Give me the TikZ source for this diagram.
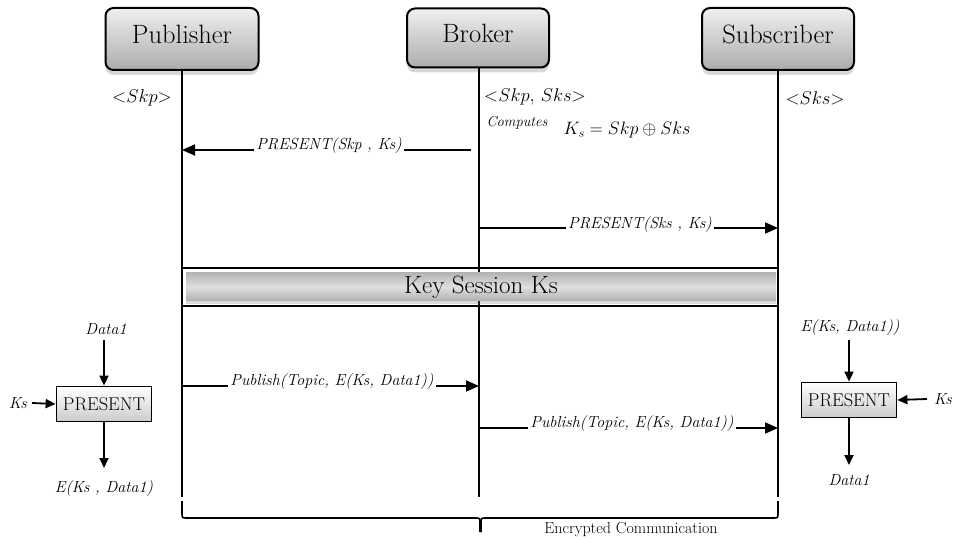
\RequirePackage{fix-cm}
\documentclass[tikz,border=0pt]{standalone}
\usepackage{fontspec}
\usetikzlibrary{arrows.meta,shadows}
\begin{document}
\begin{tikzpicture}[x=1pt,y=-1pt,
  actor/.style={draw=black, line width=2pt, rounded corners=8pt,
    top color=gray!12, bottom color=gray!65, inner sep=0pt,
    font=\fontsize{26.5}{30}\selectfont, text height=18pt, text depth=8pt,
    drop shadow={shadow xshift=0pt, shadow yshift=-5pt, opacity=0.3, fill=gray}},
  life/.style={line width=1.8pt},
  msg/.style={line width=1.8pt},
  tip/.style={-{Triangle[length=13pt,width=11pt]}},
  smalltip/.style={-{Triangle[length=10pt,width=9pt]}},
  lbl/.style={font=\fontsize{16}{19}\selectfont\itshape, inner sep=2pt},
  keylbl/.style={font=\fontsize{18.5}{22}\selectfont, inner sep=0pt},
  bar/.style={top color=gray!58, bottom color=gray!62, middle color=gray!25, inner sep=0pt,
    font=\fontsize{25}{29}\selectfont,
    drop shadow={shadow xshift=0pt, shadow yshift=-3pt, opacity=0.3, fill=gray}},
  encbox/.style={draw=black, line width=1.8pt, top color=white, middle color=white, bottom color=gray!40,
    minimum width=95pt, minimum height=35pt, inner sep=0pt, font=\fontsize{18.5}{22}\selectfont},
]
\useasboundingbox (0,0) rectangle (954,540);

% actors
\node[actor, minimum width=153pt, minimum height=62pt] (pub) at (182,39) {Publisher};
\node[actor, minimum width=142pt, minimum height=59pt] (brk) at (478,38) {Broker};
\node[actor, minimum width=152pt, minimum height=62pt] (sub) at (778,39) {Subscriber};

% lifeline ends
\coordinate (pubend) at (182,497);
\coordinate (brkend) at (479,497);
\coordinate (subend) at (778,497);
\draw[life] (pub.south) -- (pubend);
\draw[life] (brk.south -| brkend) -- (brkend);
\draw[life] (sub.south) -- (subend);

% keys
\node[keylbl] (kp) at (142,98) {$\mathord{<}Skp\mathord{>}$};
\node[keylbl] (kb) at (535,97) {$\mathord{<}Skp,\,Sks\mathord{>}$};
\node[keylbl] (ks) at (815,98) {$\mathord{<}Sks\mathord{>}$};
\node[font=\fontsize{14.5}{17}\selectfont\itshape, inner sep=0pt] (comp) at (517,123) {Computes};
\node[font=\fontsize{18}{21}\selectfont, inner sep=0pt] (eq) at (627,130) {$K_{s}=Skp\oplus Sks$};

% message 1
\coordinate (m1s) at (471,150);
\coordinate (m1e) at (182,150);
\node[lbl] (m1) at (329,146) {PRESENT(Skp , Ks)};
\draw[msg] (m1s) -- (m1.east |- m1s);
\draw[msg,tip] (m1.west |- m1e) -- (m1e);

% message 2
\coordinate (m2s) at (479,228);
\coordinate (m2e) at (778,228);
\node[lbl] (m2) at (640,225) {PRESENT(Sks , Ks)};
\draw[msg] (m2s) -- (m2.west |- m2s);
\draw[msg,tip] (m2.east |- m2e) -- (m2e);

% key session
\coordinate (ksl1) at (182,268);
\coordinate (ksr1) at (778,268);
\coordinate (ksl2) at (182,306);
\coordinate (ksr2) at (778,306);
\draw[line width=2pt] (ksl1) -- (ksr1);
\draw[line width=2pt] (ksl2) -- (ksr2);
\node[bar, minimum width=590pt, minimum height=28pt] (session) at (481,287) {Key Session Ks};

% message 3
\coordinate (m3s) at (182,386);
\coordinate (m3e) at (479,386);
\node[lbl] (m3) at (332,382) {Publish(Topic, E(Ks, Data1))};
\draw[msg] (m3s) -- (m3.west |- m3s);
\draw[msg,tip] (m3.east |- m3e) -- (m3e);

% message 4
\coordinate (m4s) at (479,428);
\coordinate (m4e) at (778,428);
\node[lbl] (m4) at (632,424) {Publish(Topic, E(Ks, Data1))};
\draw[msg] (m4s) -- (m4.west |- m4s);
\draw[msg,tip] (m4.east |- m4e) -- (m4e);

% left PRESENT
\node[encbox] (encL) at (104,404) {PRESENT};
\node[lbl] (dL) at (106,329) {Data1};
\node[lbl] (kL) at (18,403) {Ks};
\coordinate (oL) at (104,468);
\node[lbl] (eL) at (104,489) {E(Ks , Data1)};
\draw[msg,smalltip] (dL.south -| encL) ++(0,3) -- (encL.north);
\draw[msg,smalltip] (kL.east) ++(3,0) -- (encL.west);
\draw[msg,smalltip] (encL.south) -- (oL);

% right PRESENT
\node[encbox] (encR) at (849,400) {PRESENT};
\node[lbl] (eR) at (850,328) {E(Ks, Data1))};
\node[lbl] (kR) at (943,399) {Ks};
\coordinate (oR) at (849,465);
\node[lbl] (dR) at (849,480) {Data1};
\draw[msg,smalltip] (eR.south -| encR) ++(0,2) -- (encR.north);
\draw[msg,smalltip] (kR.west) ++(-5,0) -- (encR.east);
\draw[msg,smalltip] (encR.south) -- (oR);

% brace
\draw[line width=1.6pt] (182,501) -- (182,513) .. controls (182,518) .. (187,518)
  -- (475,518) .. controls (480,518) .. (480,523) -- (480,532);
\draw[line width=1.6pt] (778,501) -- (778,513) .. controls (778,518) .. (773,518)
  -- (486,518) .. controls (481,518) .. (481,523) -- (481,532);
\node[font=\fontsize{16}{19}\selectfont, inner sep=0pt] (enc) at (631,530) {Encrypted Communication};
\end{tikzpicture}
\end{document}
